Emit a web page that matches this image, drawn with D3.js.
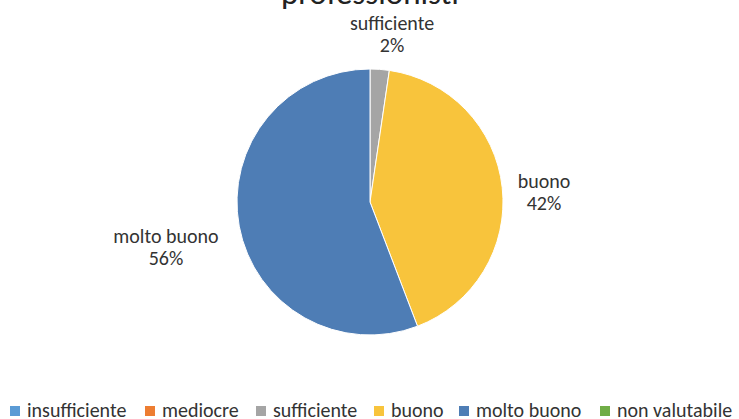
<!DOCTYPE html>
<html>
<head>
<meta charset="utf-8">
<script src="https://cdn.jsdelivr.net/npm/d3@7"></script>
<style>
  html, body { margin: 0; padding: 0; background: #fff; }
  svg { display: block; font-family: Carlito, Lato, "Open Sans", sans-serif; }
</style>
</head>
<body>
<svg id="chart" width="739" height="419"></svg>
<script>
// Ratings and number of answers per rating
const categories = ["insufficiente", "mediocre", "sufficiente", "buono", "molto buono", "non valutabile"];
const counts = [0, 0, 1, 18, 24, 0];
const colors = ["#5B9BD5", "#ED7D31", "#A5A5A5", "#F8C43C", "#4E7DB5", "#70AD47"];
const titleText = "professionisti";

const svg = d3.select("#chart");
const cx = 370, cy = 202, r = 133;

const total = d3.sum(counts);
const data = categories.map((c, i) => ({ name: c, value: counts[i] }));

const color = d3.scaleOrdinal().domain(categories).range(colors);

// Title (last line visible at the top edge)
svg.append("text")
  .attr("x", 370).attr("y", 4)
  .attr("text-anchor", "middle")
  .attr("font-size", 33)
  .attr("fill", "#222")
  .text(titleText);

const pie = d3.pie().value(d => d.value).sort(null);
const arcs = pie(data);
const arc = d3.arc().innerRadius(0).outerRadius(r);

const g = svg.append("g").attr("transform", `translate(${cx},${cy})`);
g.selectAll("path")
  .data(arcs.filter(a => a.data.value > 0))
  .join("path")
  .attr("d", arc)
  .attr("fill", d => color(d.data.name))
  .attr("stroke", "#fff")
  .attr("stroke-width", 1);

// Data labels: category name over rounded percentage
const labelPos = {
  "sufficiente": [392, 30],
  "buono": [544, 188],
  "molto buono": [166, 243]
};
const labels = svg.append("g").attr("font-size", 20).attr("fill", "#333").attr("text-anchor", "middle");
arcs.filter(a => a.data.value > 0).forEach(a => {
  const p = labelPos[a.data.name];
  const t = labels.append("text").attr("x", p[0]).attr("y", p[1]);
  t.append("tspan").attr("x", p[0]).text(a.data.name);
  t.append("tspan").attr("x", p[0]).attr("dy", 22)
    .text(Math.round(a.data.value / total * 100) + "%");
});

// Legend
const legendX = [10, 145, 256, 374, 459, 600];
const legend = svg.append("g").attr("font-size", 20).attr("fill", "#333");
categories.forEach((c, i) => {
  const item = legend.append("g").attr("transform", `translate(${legendX[i]},0)`);
  item.append("rect").attr("x", 0).attr("y", 406).attr("width", 10).attr("height", 10)
    .attr("fill", color(c));
  item.append("text").attr("x", 17).attr("y", 417).text(c);
});
</script>
</body>
</html>
